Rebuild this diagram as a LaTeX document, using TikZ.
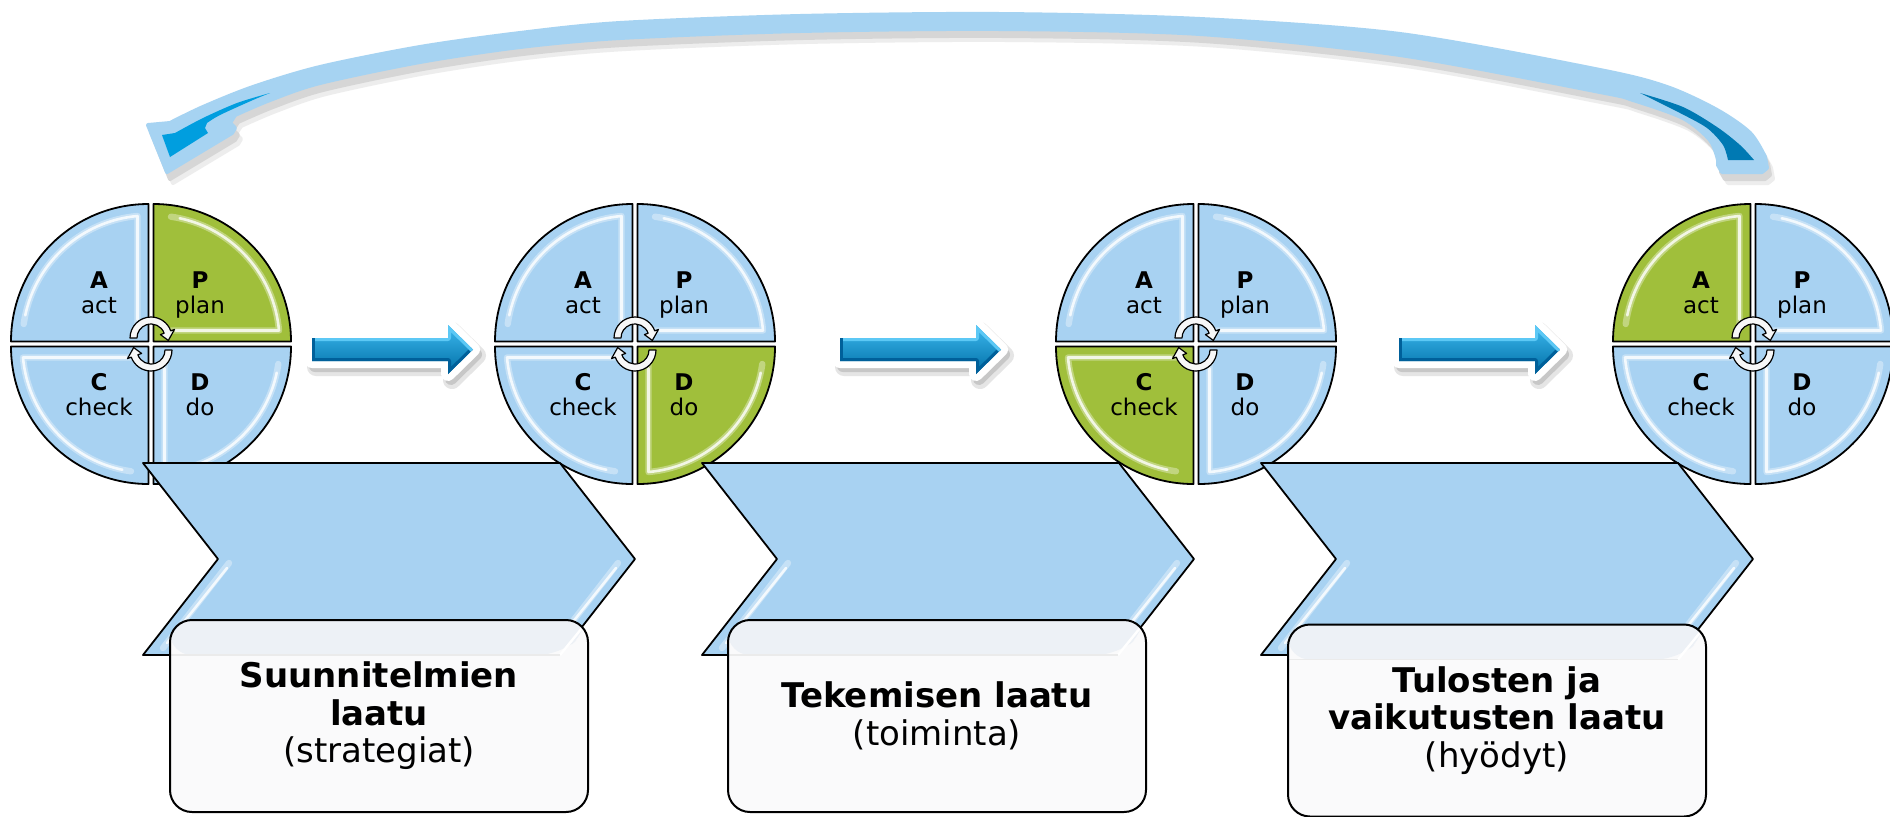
\documentclass[tikz,border=0pt]{standalone}
\usepackage{fontspec}
\setmainfont{DejaVu Sans}
\usetikzlibrary{calc}

\definecolor{qblue}{HTML}{A8D2F2}
\definecolor{qgreen}{HTML}{A0BF3B}
\definecolor{abluetop}{HTML}{3DB8EE}
\definecolor{abluemid}{HTML}{0099D9}
\definecolor{abluebot}{HTML}{006FA6}
\definecolor{abluelight}{HTML}{5CC8F5}
\definecolor{abluedark}{HTML}{00609A}
\definecolor{curvelight}{HTML}{A6D3F2}
\definecolor{curvedark}{HTML}{0079B3}
\definecolor{curvebright}{HTML}{009EDF}
\definecolor{boxband}{HTML}{EDF1F6}
\definecolor{boxfill}{HTML}{FAFAFB}

\tikzset{
  qline/.style={draw=black, line width=0.9pt, line join=round},
  hlsoft/.style={draw=white, opacity=0.35, line width=3.2pt, line cap=round, line join=round},
  hl/.style={draw=white, opacity=0.8, line width=1.3pt, line cap=round, line join=round},
  cyc/.style={fill=gray!6, draw=black, line width=0.6pt, line join=round},
  lbl/.style={anchor=base, inner sep=0pt, font=\fontsize{11.5pt}{13pt}\selectfont},
  qbox/.style={draw=black, line width=1pt, rounded corners=11pt, fill=boxfill,
    minimum width=209pt, minimum height=96pt, align=center, inner sep=0pt,
    font=\fontsize{17pt}{18.75pt}\selectfont,
    path picture={
      \fill[boxband] (path picture bounding box.north west)
        -- (path picture bounding box.north east)
        -- ([yshift=-5pt]path picture bounding box.north east)
        -- ([xshift=-14pt,yshift=-17.5pt]path picture bounding box.north east)
        -- ([yshift=-17.5pt]path picture bounding box.north west) -- cycle;
      \draw[white, line width=1.2pt]
        ([xshift=-3pt,yshift=-4pt]path picture bounding box.north east)
        -- ([xshift=-14pt,yshift=-17.5pt]path picture bounding box.north east);
      \draw[black!8, line width=0.6pt]
        ([yshift=-17.5pt]path picture bounding box.north west)
        -- ([xshift=-14pt,yshift=-17.5pt]path picture bounding box.north east);
    }}
}

% one quadrant: #1 cx, #2 cy, #3 start angle, #4 colour, #5 sx, #6 sy
\newcommand\pdcaq[6]{%
  \coordinate (qc) at ($(#1,#2)+(#5*2.5,#6*2.5)$);
  \fill[#4] (qc) -- ++(#3:137.5) arc[start angle=#3,end angle=#3+90,radius=137.5] -- cycle;
  \draw[hlsoft] ($(qc)+(#3:11)+(#3+90:18)$) -- ($(qc)+(#3:11)+(#3+90:125.5)$)
     arc[start angle=#3+85,end angle=#3+8,radius=126];
  \draw[hl] ($(qc)+(#3:11)+(#3+90:22)$) -- ($(qc)+(#3:11)+(#3+90:125.5)$)
     arc[start angle=#3+85,end angle=#3+12,radius=126];
  \draw[qline] (qc) -- ++(#3:137.5) arc[start angle=#3,end angle=#3+90,radius=137.5] -- cycle;
}

\newcommand\cycarrows[2]{%
  \coordinate (ct) at (#1,#2-6);
  \coordinate (cb) at (#1,#2+6);
  \filldraw[cyc] ($(ct)+(180:21)$) arc[start angle=180,end angle=340,radius=21]
    -- ($(ct)+(340:25)$) -- ($(ct)+(8:17.5)$) -- ($(ct)+(340:10)$) -- ($(ct)+(340:14)$)
    arc[start angle=340,end angle=180,radius=14] -- cycle;
  \filldraw[cyc] ($(cb)+(0:21)$) arc[start angle=0,end angle=160,radius=21]
    -- ($(cb)+(160:25)$) -- ($(cb)+(188:17.5)$) -- ($(cb)+(160:10)$) -- ($(cb)+(160:14)$)
    arc[start angle=160,end angle=0,radius=14] -- cycle;
}

% #1 cx, #2 cy, #3..#6 colours of A P C D, #7 name prefix
\newcommand\pdca[7]{%
  \pdcaq{#1}{#2}{180}{#3}{-1}{-1}
  \pdcaq{#1}{#2}{270}{#4}{1}{-1}
  \pdcaq{#1}{#2}{90}{#5}{-1}{1}
  \pdcaq{#1}{#2}{0}{#6}{1}{1}
  \cycarrows{#1}{#2}
  \node[lbl] (#7A) at (#1-52,#2-56) {\textbf{A}};
  \node[lbl] (#7a) at (#1-52,#2-31) {act};
  \node[lbl] (#7P) at (#1+49,#2-56) {\textbf{P}};
  \node[lbl] (#7p) at (#1+49,#2-31) {plan};
  \node[lbl] (#7C) at (#1-52,#2+46) {\textbf{C}};
  \node[lbl] (#7c) at (#1-52,#2+71) {check};
  \node[lbl] (#7D) at (#1+49,#2+46) {\textbf{D}};
  \node[lbl] (#7d) at (#1+49,#2+71) {do};
}

\newcommand\chevron[1]{%
  \fill[qblue] (#1,463) -- (#1+417,463) -- (#1+492,559) -- (#1+417,655) -- (#1,655) -- (#1+75,559) -- cycle;
  \draw[hlsoft] (#1+86,563) -- (#1+20,648);
  \draw[hlsoft] (#1+475,563) -- (#1+409,648);
  \draw[hl] (#1+84,568) -- (#1+24,643);
  \draw[hl] (#1+473,568) -- (#1+413,643);
  \draw[qline] (#1,463) -- (#1+417,463) -- (#1+492,559) -- (#1+417,655) -- (#1,655) -- (#1+75,559) -- cycle;
}

\newcommand\barrow[1]{%
  \filldraw[black!10, line width=9pt, line join=round, shift={(4,6)}]
    (#1,338) -- (#1+136,338) -- (#1+136,325) -- (#1+161,349.5) -- (#1+136,374) -- (#1+136,361) -- (#1,361) -- cycle;
  \filldraw[black!22, line width=6pt, line join=round, shift={(3,5)}]
    (#1,338) -- (#1+136,338) -- (#1+136,325) -- (#1+161,349.5) -- (#1+136,374) -- (#1+136,361) -- (#1,361) -- cycle;
  \filldraw[white, line width=7pt, line join=round]
    (#1,338) -- (#1+136,338) -- (#1+136,325) -- (#1+161,349.5) -- (#1+136,374) -- (#1+136,361) -- (#1,361) -- cycle;
  \shade[top color=abluetop, middle color=abluemid, bottom color=abluebot]
    (#1,338) -- (#1+136,338) -- (#1+136,325) -- (#1+161,349.5) -- (#1+136,374) -- (#1+136,361) -- (#1,361) -- cycle;
  \begin{scope}
    \clip (#1,338) -- (#1+136,338) -- (#1+136,325) -- (#1+161,349.5) -- (#1+136,374) -- (#1+136,361) -- (#1,361) -- cycle;
    \draw[abluedark, line width=3pt, line join=round] (#1,361) -- (#1+136,361) -- (#1+136,374) -- (#1+161,349.5);
    \draw[abluelight, line width=3pt, line join=round] (#1,338) -- (#1+136,338) -- (#1+136,325) -- (#1+161,349.5);
    \draw[abluedark, line width=3pt] (#1,338) -- (#1,361);
  \end{scope}
}

\newcommand\curveshape[1]{%
  \filldraw[#1, line width=2pt, line join=round] (148,125) -- (170,123)
    -- plot[smooth] coordinates {(170,123) (203,107) (253,87) (320,67) (420,47) (520,33) (620,23)
       (800,16) (1000,14) (1200,19) (1400,34) (1600,70) (1667,87) (1717,110) (1750,133) (1765,157)}
    -- (1767,168) -- (1762,172) -- (1722,172) -- (1718,165)
    -- plot[smooth] coordinates {(1718,160) (1710,140) (1683,118) (1633,100) (1600,92) (1400,55)
       (1200,34) (1000,29) (800,31) (620,38) (520,47) (420,62) (320,83) (270,100) (235,115)}
    -- (230,123) -- (235,128) -- (232,133) -- (167,172) -- cycle;
}

\begin{document}
\begin{tikzpicture}[x=0.5pt,y=-0.5pt]
\useasboundingbox (0,0) rectangle (1890,816);
\fill[white] (0,0) rectangle (1890,816);

% big curved return arrow
\curveshape{black!7, shift={(6,11)}}
\curveshape{black!16, shift={(3,7)}}
\curveshape{curvelight}
\fill[curvedark] plot[smooth] coordinates {(1640,93) (1683,107) (1717,127) (1740,145) (1754,160)}
  -- (1728,160) -- plot[smooth] coordinates {(1728,160) (1723,145) (1707,128) (1680,113) (1640,93)} -- cycle;
\fill[curvebright] (162,135) -- (175,133)
  -- plot[smooth] coordinates {(175,133) (203,118) (237,103) (270,93)}
  -- plot[smooth] coordinates {(270,93) (253,100) (220,115) (207,123)}
  -- (205,128) -- (208,133) -- (170,157) -- cycle;

% PDCA circles
\pdca{151}{344}{qblue}{qgreen}{qblue}{qblue}{c1}
\pdca{635}{344}{qblue}{qblue}{qblue}{qgreen}{c2}
\pdca{1196}{344}{qblue}{qblue}{qgreen}{qblue}{c3}
\pdca{1753}{344}{qgreen}{qblue}{qblue}{qblue}{c4}

% blue arrows
\barrow{312}
\barrow{840}
\barrow{1399}

% chevrons
\chevron{143}
\chevron{702}
\chevron{1261}

% text boxes
\node[qbox] (b1) at (379,716) {\textbf{Suunnitelmien}\\\textbf{laatu}\\(strategiat)};
\node[qbox] (b2) at (937,716) {\textbf{Tekemisen laatu}\\(toiminta)};
\node[qbox] (b3) at (1497,720.5) {\textbf{Tulosten ja}\\\textbf{vaikutusten laatu}\\(hyödyt)};
\end{tikzpicture}
\end{document}
